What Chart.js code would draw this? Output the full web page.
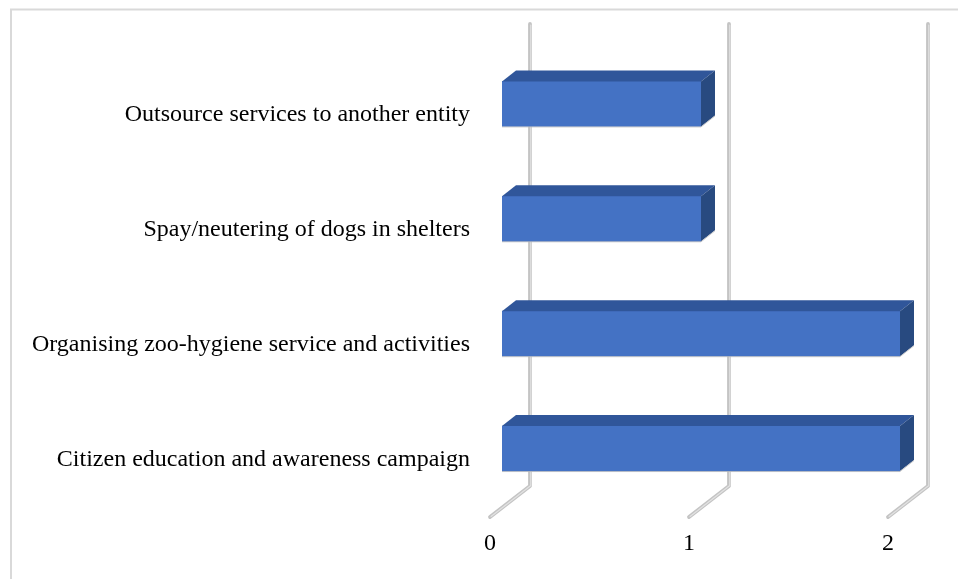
<!DOCTYPE html>
<html>
<head>
<meta charset="utf-8">
<script src="https://cdn.jsdelivr.net/npm/chart.js@4/dist/chart.umd.min.js"></script>
<style>
html,body{margin:0;padding:0;background:#fff;}
#wrap{width:958px;height:579px;position:relative;}
</style>
</head>
<body>
<div id="wrap"><canvas id="c" width="958" height="579"></canvas></div>
<script>
const categories = [
  "Outsource services to another entity",
  "Spay/neutering of dogs in shelters",
  "Organising zoo-hygiene service and activities",
  "Citizen education and awareness campaign"
];
const values = [1, 1, 2, 2];
const tickValues = [0, 1, 2];

const FRONT = '#4472C4', TOP = '#30569A', SIDE = '#284A80';
const DX = 14, DY = -11;       // bar depth offset
const WALL = 28;               // back wall offset from bar front plane
const FLOOR_DX = -40, FLOOR_DY = 31;
const FONT = { family: '"Liberation Serif", "Times New Roman", serif', size: 24 };

const frame3d = {
  id: 'frame3d',
  beforeDraw(chart) {
    const ctx = chart.ctx;
    ctx.save();
    ctx.fillStyle = '#fff';
    ctx.fillRect(0, 0, chart.width, chart.height);
    ctx.strokeStyle = '#d9d9d9';
    ctx.lineWidth = 2;
    ctx.beginPath();
    ctx.moveTo(11, 579); ctx.lineTo(11, 9.5); ctx.lineTo(958, 9.5);
    ctx.stroke();
    ctx.restore();
  },
  beforeDatasetsDraw(chart) {
    const ctx = chart.ctx, xs = chart.scales.x;
    const top = 24, bottom = 486;
    ctx.save();
    ctx.lineCap = 'round';
    ctx.lineJoin = 'round';
    tickValues.forEach(v => {
      const x = xs.getPixelForValue(v) + WALL;
      ctx.beginPath();
      ctx.moveTo(x, top); ctx.lineTo(x, bottom); ctx.lineTo(x + FLOOR_DX, bottom + FLOOR_DY);
      ctx.strokeStyle = '#c4c4c4'; ctx.lineWidth = 3.8; ctx.stroke();
      ctx.beginPath();
      ctx.moveTo(x + 0.8, top + 1); ctx.lineTo(x + 0.8, bottom - 0.5); ctx.lineTo(x + FLOOR_DX + 1, bottom + FLOOR_DY - 0.5);
      ctx.strokeStyle = '#e2e2e2'; ctx.lineWidth = 1.2; ctx.stroke();
    });
    ctx.restore();
  },
  afterDatasetsDraw(chart) {
    const ctx = chart.ctx;
    const meta = chart.getDatasetMeta(0);
    ctx.save();
    meta.data.forEach(bar => {
      const p = bar.getProps(['x', 'y', 'base', 'height'], true);
      const l = p.base, r = p.x, t = p.y - p.height / 2, b = p.y + p.height / 2;
      ctx.beginPath();
      ctx.moveTo(l, t); ctx.lineTo(l + DX, t + DY); ctx.lineTo(r + DX, t + DY); ctx.lineTo(r, t);
      ctx.closePath();
      ctx.fillStyle = TOP; ctx.fill();
      ctx.beginPath();
      ctx.moveTo(r, t); ctx.lineTo(r + DX, t + DY); ctx.lineTo(r + DX, b + DY); ctx.lineTo(r, b);
      ctx.closePath();
      ctx.fillStyle = SIDE; ctx.fill();
      ctx.beginPath();
      ctx.moveTo(l, b + 0.5); ctx.lineTo(r, b + 0.5); ctx.lineTo(r + DX, b + DY + 0.5);
      ctx.strokeStyle = 'rgba(190,190,190,0.8)'; ctx.lineWidth = 1; ctx.stroke();
    });
    ctx.restore();
  }
};

new Chart(document.getElementById('c'), {
  type: 'bar',
  data: {
    labels: categories,
    datasets: [{
      data: values,
      backgroundColor: FRONT,
      borderWidth: 0,
      barThickness: 45
    }]
  },
  options: {
    indexAxis: 'y',
    responsive: false,
    animation: false,
    devicePixelRatio: 1,
    layout: { padding: { top: 46.5, right: 58, left: 0, bottom: 0 } },
    plugins: { legend: { display: false }, tooltip: { enabled: false } },
    scales: {
      x: {
        min: 0, max: 2,
        afterBuildTicks: s => { s.ticks = tickValues.map(v => ({ value: v })); },
        afterFit: s => { s.height = 73; },
        grid: { display: false, drawTicks: false },
        border: { display: false },
        ticks: {
          color: '#000',
          font: FONT,
          labelOffset: -12,
          padding: 23,
          maxRotation: 0
        }
      },
      y: {
        afterFit: s => { s.width = 502; },
        grid: { display: false, drawTicks: false },
        border: { display: false },
        ticks: {
          color: '#000',
          font: FONT,
          labelOffset: 11,
          padding: 32
        }
      }
    }
  },
  plugins: [frame3d]
});
</script>
</body>
</html>
